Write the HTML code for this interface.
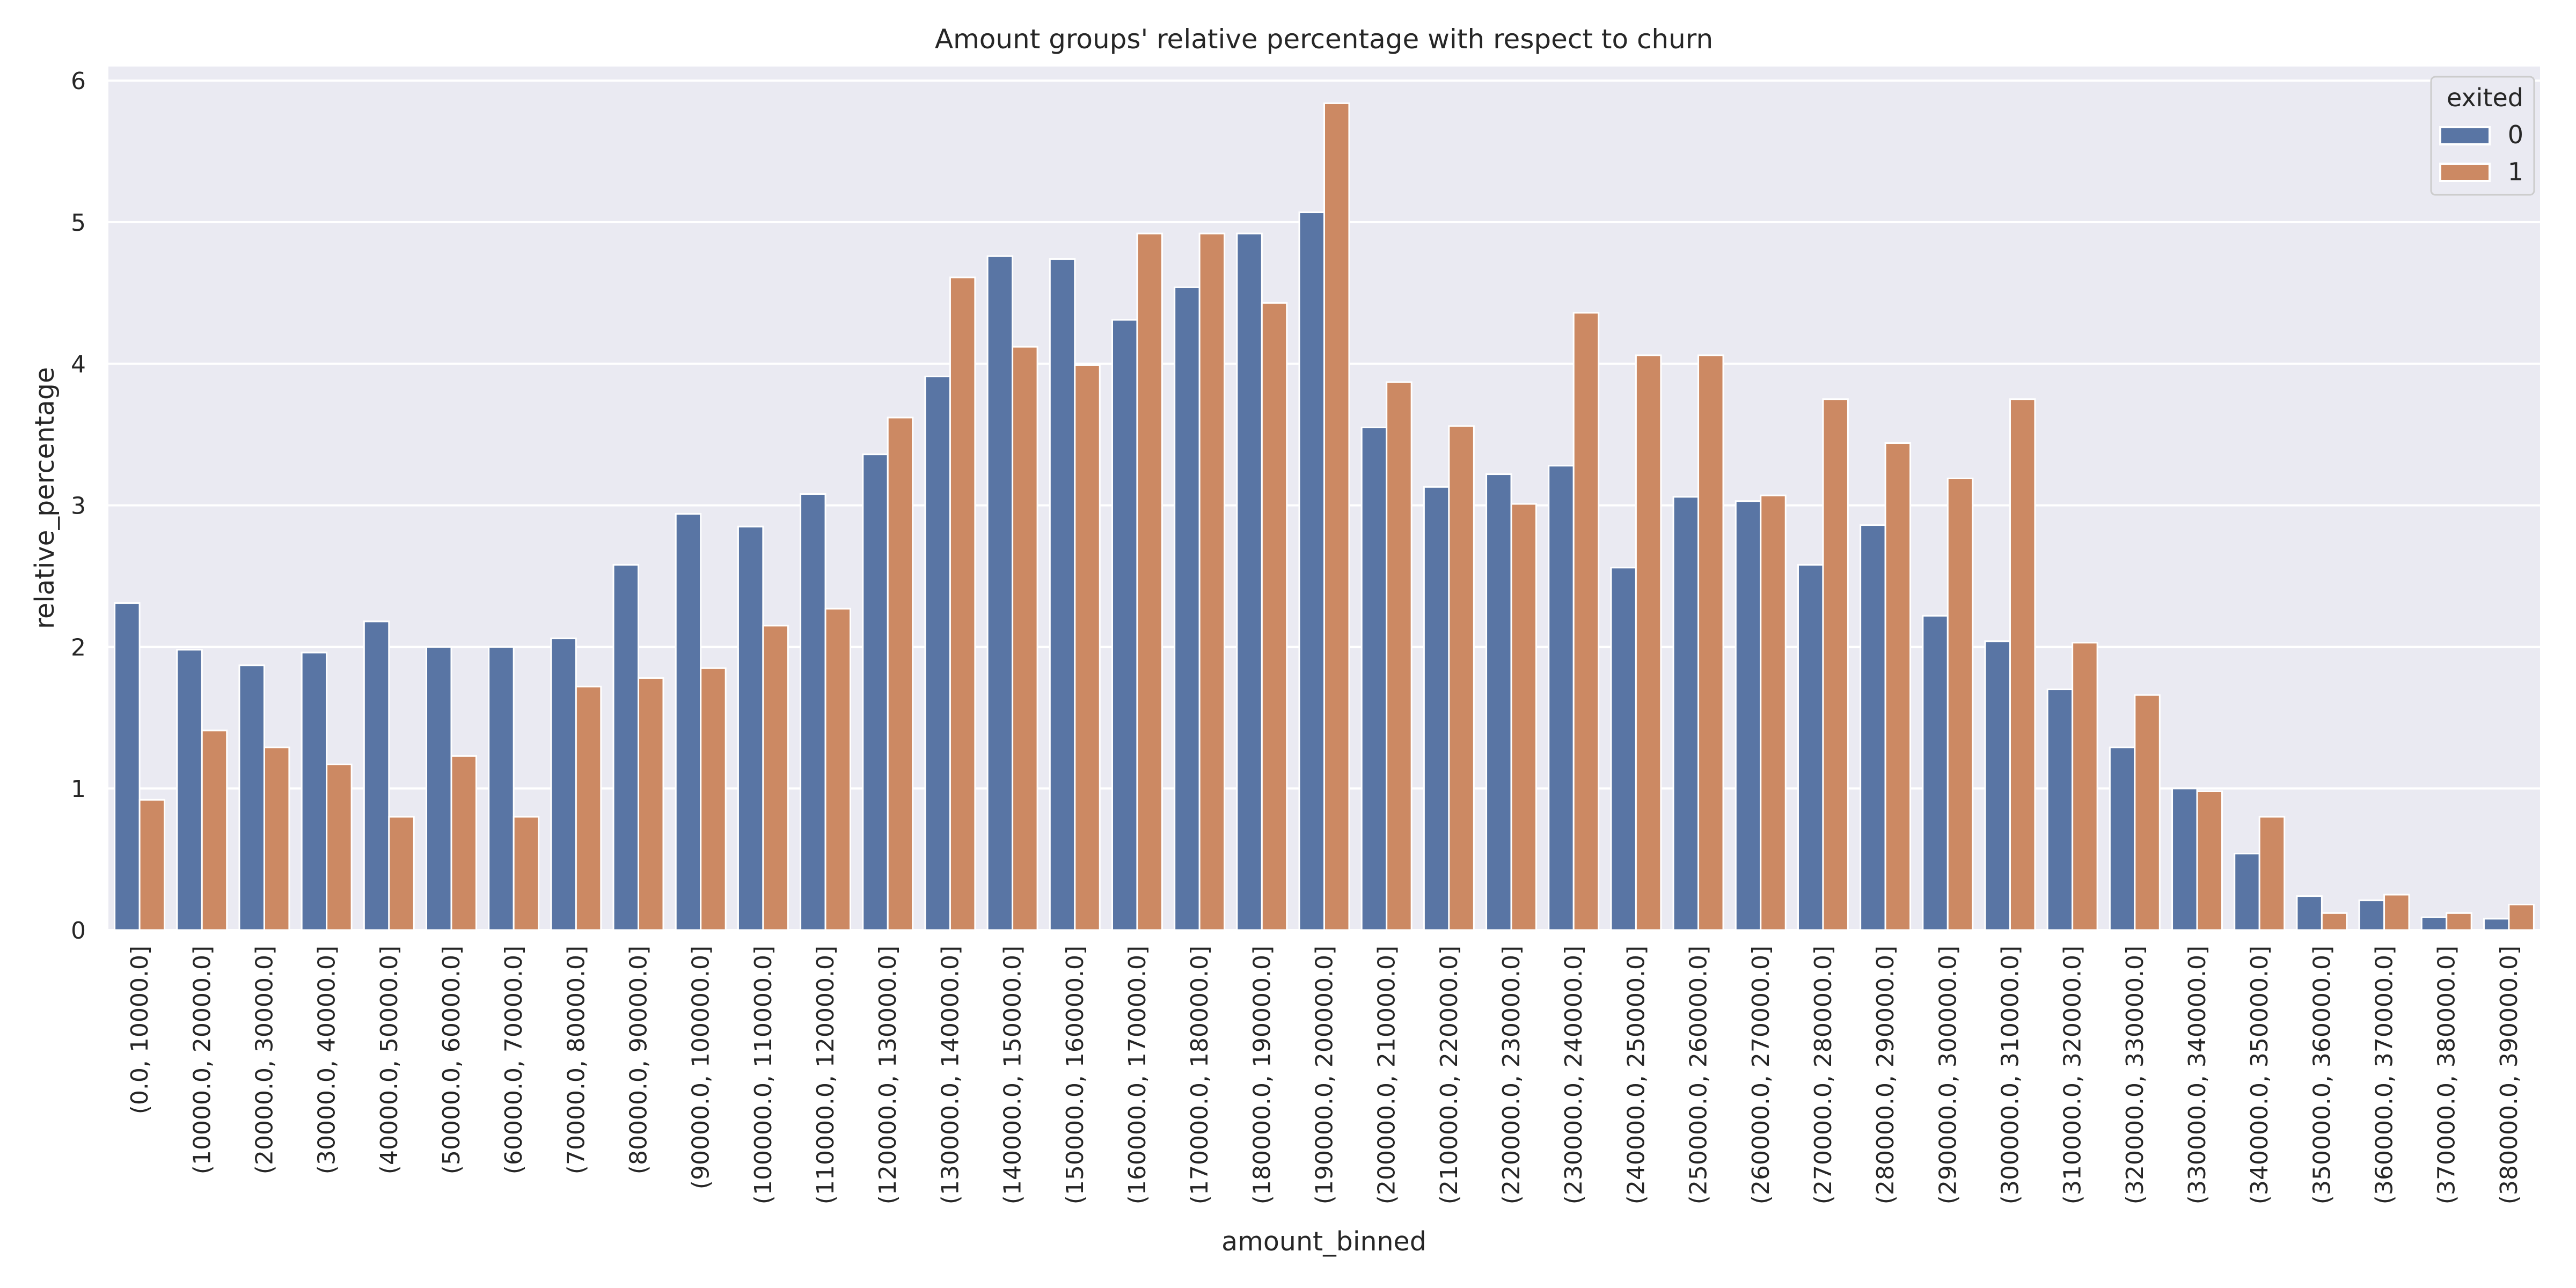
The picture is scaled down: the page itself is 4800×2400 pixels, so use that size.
<!DOCTYPE html>
<html><head><meta charset="utf-8"><style>
html,body{margin:0;padding:0;background:#fff;}
svg{display:block;font-family:"DejaVu Sans","Liberation Sans",sans-serif;}
</style></head><body>
<svg id="chart" width="4800" height="2400" viewBox="0 0 4800 2400" xmlns="http://www.w3.org/2000/svg">
<rect x="202" y="124" width="4531" height="1609" fill="#eaeaf2"/>
<g id="grid"></g>
<g id="bars"></g>
<g id="yticks"></g>
<g id="xticks"></g>
<text x="2467" y="90" font-size="50" text-anchor="middle" fill="#262626">Amount groups' relative percentage with respect to churn</text>
<text x="2467" y="2330" font-size="49" text-anchor="middle" fill="#262626">amount_binned</text>
<text transform="translate(100,928) rotate(-90)" font-size="49" text-anchor="middle" fill="#262626">relative_percentage</text>
<g>
<rect x="4530" y="143" width="192" height="220" rx="8" fill="#eaeaf2" stroke="#cccccc" stroke-width="3"/>
<text x="4702" y="198" font-size="46" text-anchor="end" fill="#262626">exited</text>
<rect x="4547" y="237" width="92" height="32" fill="#5975a4" stroke="#fff" stroke-width="4"/>
<text x="4702" y="267" font-size="46" text-anchor="end" fill="#262626">0</text>
<rect x="4547" y="305" width="92" height="32" fill="#cc8963" stroke="#fff" stroke-width="4"/>
<text x="4702" y="336" font-size="46" text-anchor="end" fill="#262626">1</text>
</g>
</svg>
<script>
const categories = [];
for (let i = 0; i < 39; i++) categories.push("(" + (i*10000) + ".0, " + ((i+1)*10000) + ".0]");
const exited0 = [2.31,1.98,1.87,1.96,2.18,2.00,2.00,2.06,2.58,2.94,2.85,3.08,3.36,3.91,4.76,4.74,4.31,4.54,4.92,5.07,3.55,3.13,3.22,3.28,2.56,3.06,3.03,2.58,2.86,2.22,2.04,1.70,1.29,1.00,0.54,0.24,0.21,0.09,0.08];
const exited1 = [0.92,1.41,1.29,1.17,0.80,1.23,0.80,1.72,1.78,1.85,2.15,2.27,3.62,4.61,4.12,3.99,4.92,4.92,4.43,5.84,3.87,3.56,3.01,4.36,4.06,4.06,3.07,3.75,3.44,3.19,3.75,2.03,1.66,0.98,0.80,0.12,0.25,0.12,0.18];
const yTicks = [0,1,2,3,4,5,6];

const NS = "http://www.w3.org/2000/svg";
const L = 202, R = 4733, B = 1733, PT = 263.8;
const bw = (R - L) / categories.length;
const y = v => B - v * PT;
const xc = i => L + bw * (i + 0.5);

const grid = document.getElementById('grid');
const yt = document.getElementById('yticks');
yTicks.forEach(t => {
  const ln = document.createElementNS(NS, 'line');
  
  
  ln.setAttribute('x1', L); ln.setAttribute('x2', R);
  ln.setAttribute('y1', y(t)); ln.setAttribute('y2', y(t));
  ln.setAttribute('stroke', '#fff'); ln.setAttribute('stroke-width', '4');
  grid.appendChild(ln);
  const tx = document.createElementNS(NS, 'text');
  
  
  tx.setAttribute('x', 160); tx.setAttribute('y', y(t) + 16);
  tx.setAttribute('font-size', '44'); tx.setAttribute('text-anchor', 'end');
  tx.setAttribute('fill', '#262626');
  tx.textContent = t;
  yt.appendChild(tx);
});

const bars = document.getElementById('bars');
const w = bw * 0.4;
function bar(i, v, off, color, name) {
  const r = document.createElementNS(NS, 'rect');
  
  
  r.setAttribute('x', xc(i) + off);
  r.setAttribute('y', y(v));
  r.setAttribute('width', w);
  r.setAttribute('height', B - y(v));
  r.setAttribute('fill', color);
  r.setAttribute('stroke', '#fff');
  r.setAttribute('stroke-width', '3');
  bars.appendChild(r);
}
const xt = document.getElementById('xticks');
categories.forEach((c, i) => {
  bar(i, exited0[i], -w, '#5975a4', 'bar-exited-0');
  bar(i, exited1[i], 0, '#cc8963', 'bar-exited-1');
  const tx = document.createElementNS(NS, 'text');
  
  
  tx.setAttribute('transform', 'translate(' + (xc(i) + 15) + ',1762) rotate(-90)');
  tx.setAttribute('font-size', '44'); tx.setAttribute('text-anchor', 'end');
  tx.setAttribute('fill', '#262626');
  tx.textContent = c;
  xt.appendChild(tx);
});
</script>
</body></html>
